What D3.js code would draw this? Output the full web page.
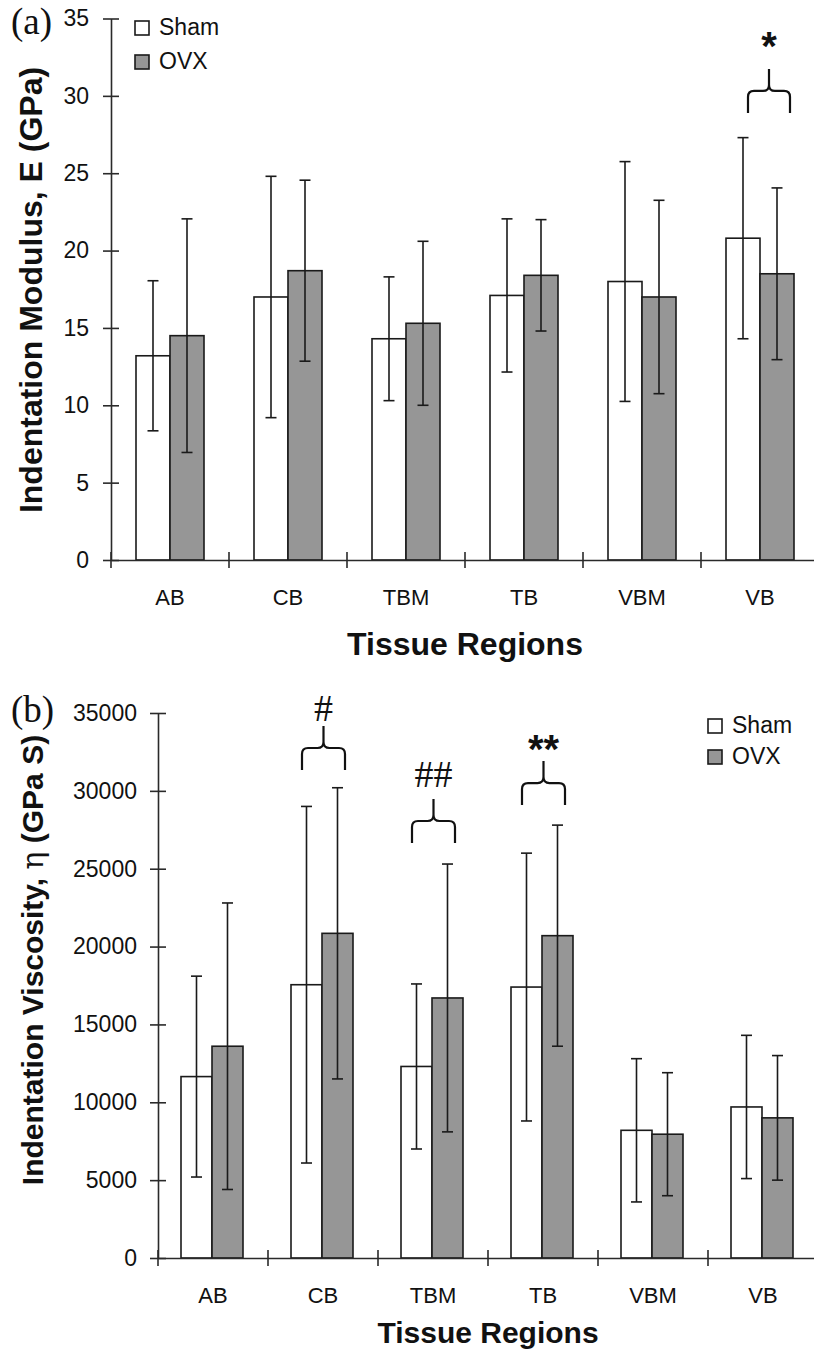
<!DOCTYPE html>
<html>
<head>
<meta charset="utf-8">
<script src="https://cdn.jsdelivr.net/npm/d3@7"></script>
<style>
  html, body { margin: 0; padding: 0; background: #fff; }
  svg { display: block; }
  text { font-family: "Liberation Sans", Arial, sans-serif; fill: #111; }
</style>
</head>
<body>
<svg id="chart" width="814" height="1353"></svg>
<script>
// ---------- data ----------
const categories = ["AB", "CB", "TBM", "TB", "VBM", "VB"];
const seriesNames = ["Sham", "OVX"];

// (a) Indentation modulus (GPa): mean and SD
const modulusSham   = [13.2, 17.0, 14.3, 17.1, 18.0, 20.8];
const modulusShamSD = [4.85, 7.8, 4.0, 4.95, 7.75, 6.5];
const modulusOVX    = [14.5, 18.7, 15.3, 18.4, 17.0, 18.5];
const modulusOVXSD  = [7.55, 5.85, 5.3, 3.6, 6.25, 5.55];
const modulusTicks  = [0, 5, 10, 15, 20, 25, 30, 35];

// (b) Indentation viscosity (GPa S): mean and SD
const viscSham   = [11650, 17550, 12300, 17400, 8200, 9700];
const viscShamSD = [6450, 11450, 5300, 8600, 4600, 4600];
const viscOVX    = [13600, 20850, 16700, 20700, 7950, 9000];
const viscOVXSD  = [9200, 9350, 8600, 7100, 3950, 4000];
const viscTicks  = [0, 5000, 10000, 15000, 20000, 25000, 30000, 35000];

// significance annotations: category, label, brace bottom value, label baseline value
const annotA = [{cat: "VB", label: "*", base: 28.9, labelAt: 32.3}];
const annotB = [
  {cat: "CB",  label: "#",  base: 31340, labelAt: 34500},
  {cat: "TBM", label: "##", base: 26650, labelAt: 30250},
  {cat: "TB",  label: "**", base: 29090, labelAt: 31800}
];

// ---------- drawing ----------
const svg = d3.select("#chart");

function panel(cfg) {
  const g = svg.append("g");
  const x = d3.scaleBand().domain(categories).range([cfg.left, cfg.right]).padding(0);
  const xs = d3.scaleBand().domain(seriesNames).range([cfg.groupPad, cfg.groupPad + 2 * cfg.barW]).padding(0);
  const y = d3.scaleLinear().domain([0, cfg.max]).range([cfg.y0, cfg.yTop]);

  const data = [];
  categories.forEach((c, i) => {
    data.push({cat: c, s: "Sham", m: cfg.sham[i], sd: cfg.shamSD[i]});
    data.push({cat: c, s: "OVX",  m: cfg.ovx[i],  sd: cfg.ovxSD[i]});
  });

  // bars
  g.selectAll("rect.bar").data(data).enter().append("rect")
    .attr("x", d => x(d.cat) + xs(d.s))
    .attr("y", d => y(d.m))
    .attr("width", xs.bandwidth())
    .attr("height", d => y(0) - y(d.m))
    .attr("fill", d => d.s === "Sham" ? "#ffffff" : "#969696")
    .attr("stroke", "#1a1a1a").attr("stroke-width", 1.6);

  // error bars
  const eb = g.selectAll("g.err").data(data).enter().append("g")
    .attr("stroke", "#1a1a1a").attr("stroke-width", 1.6);
  const cx = d => x(d.cat) + xs(d.s) + xs.bandwidth() / 2;
  eb.append("line").attr("x1", cx).attr("x2", cx)
    .attr("y1", d => y(d.m + d.sd)).attr("y2", d => y(d.m - d.sd));
  eb.append("line").attr("x1", d => cx(d) - 5.5).attr("x2", d => cx(d) + 5.5)
    .attr("y1", d => y(d.m + d.sd)).attr("y2", d => y(d.m + d.sd));
  eb.append("line").attr("x1", d => cx(d) - 5.5).attr("x2", d => cx(d) + 5.5)
    .attr("y1", d => y(d.m - d.sd)).attr("y2", d => y(d.m - d.sd));

  // y axis
  const ya = g.append("g").attr("transform", `translate(${cfg.left},0)`)
    .call(d3.axisLeft(y).tickValues(cfg.ticks).tickFormat(d3.format("d"))
      .tickSize(8).tickSizeOuter(0).tickPadding(cfg.tickPad));
  ya.select(".domain").attr("stroke", "#2a2a2a").attr("stroke-width", 1.6);
  ya.selectAll(".tick line").attr("x1", -8).attr("x2", 8).attr("stroke", "#2a2a2a").attr("stroke-width", 1.6);
  ya.selectAll(".tick text").style("font-size", cfg.tickFont + "px").attr("fill", "#1a1a1a")
    .style("font-family", '"Liberation Sans", Arial, sans-serif');

  // x axis
  const xa = g.append("g").attr("transform", `translate(0,${cfg.y0})`)
    .call(d3.axisBottom(x).tickSize(0).tickSizeOuter(0).tickPadding(cfg.catPad));
  xa.select(".domain").attr("stroke", "#2a2a2a").attr("stroke-width", 1.6);
  xa.selectAll(".tick text").style("font-size", cfg.catFont + "px").attr("fill", "#1a1a1a")
    .style("font-family", '"Liberation Sans", Arial, sans-serif');
  const bounds = categories.map(c => x(c)).concat([x.range()[1]]);
  g.selectAll("line.bt").data(bounds).enter().append("line")
    .attr("x1", d => d).attr("x2", d => d)
    .attr("y1", cfg.y0 - 8).attr("y2", cfg.y0 + 8)
    .attr("stroke", "#2a2a2a").attr("stroke-width", 1.6);

  // titles
  g.append("text").attr("x", (cfg.left + cfg.right) / 2).attr("y", cfg.xTitleY)
    .attr("text-anchor", "middle").style("font-weight", "bold").style("font-size", cfg.xTitleFont + "px")
    .text("Tissue Regions");
  const yt = g.append("text")
    .attr("transform", `translate(${cfg.yTitleX},${cfg.yTitleY}) rotate(-90)`)
    .attr("text-anchor", "middle").style("font-weight", "bold").style("font-size", cfg.yTitleFont + "px");
  cfg.yTitle(yt);

  // panel letter
  g.append("text").attr("x", 11).attr("y", cfg.letterY)
    .style("font-family", '"Liberation Serif", "Times New Roman", serif').style("font-size", "37px")
    .text(cfg.letter);

  // legend
  const lg = g.append("g");
  seriesNames.forEach((s, i) => {
    lg.append("rect").attr("x", cfg.legX).attr("y", cfg.legY + i * cfg.legStep)
      .attr("width", 14).attr("height", 14)
      .attr("fill", s === "Sham" ? "#fff" : "#969696").attr("stroke", "#1a1a1a").attr("stroke-width", 1.6);
    lg.append("text").attr("x", cfg.legX + 24).attr("y", cfg.legY + 14 + i * cfg.legStep)
      .style("font-size", "23px").text(s);
  });

  // annotations
  cfg.annot.forEach(a => {
    const x1 = x(a.cat) + cfg.braceL, x2 = x(a.cat) + cfg.braceR;
    const yb = y(a.base), yh = yb - 22, yt2 = yb - 44, mid = (x1 + x2) / 2, r = 6;
    const p = d3.path();
    p.moveTo(x1, yb); p.lineTo(x1, yh + r); p.quadraticCurveTo(x1, yh, x1 + r, yh);
    p.lineTo(mid - r, yh); p.quadraticCurveTo(mid, yh, mid, yh - r); p.lineTo(mid, yt2);
    p.moveTo(mid, yh - r); p.quadraticCurveTo(mid, yh, mid + r, yh);
    p.lineTo(x2 - r, yh); p.quadraticCurveTo(x2, yh, x2, yh + r); p.lineTo(x2, yb);
    g.append("path").attr("d", p.toString()).attr("fill", "none")
      .attr("stroke", "#111").attr("stroke-width", 2.2);
    const isStar = a.label.indexOf("*") >= 0;
    g.append("text").attr("x", mid).attr("y", y(a.labelAt))
      .attr("text-anchor", "middle")
      .style("font-family", isStar ? '"Liberation Sans", Arial, sans-serif' : '"Liberation Serif", "Times New Roman", serif')
      .style("font-weight", isStar ? "bold" : "normal")
      .style("font-size", isStar ? "40px" : "38px")
      .text(a.label);
  });
}

panel({
  left: 111, right: 819, y0: 560, yTop: 18.5, max: 35, ticks: modulusTicks,
  sham: modulusSham, shamSD: modulusShamSD, ovx: modulusOVX, ovxSD: modulusOVXSD,
  groupPad: 25, barW: 34, tickPad: 14, tickFont: 23, catPad: 29, catFont: 22,
  xTitleY: 655, xTitleFont: 32, yTitleX: 42, yTitleY: 290, yTitleFont: 32,
  yTitle: t => t.text("Indentation Modulus, E (GPa)"),
  letter: "(a)", letterY: 34,
  legX: 135, legY: 21, legStep: 34,
  annot: annotA, braceL: 47, braceR: 89
});

panel({
  left: 158, right: 818, y0: 1258, yTop: 713, max: 35000, ticks: viscTicks,
  sham: viscSham, shamSD: viscShamSD, ovx: viscOVX, ovxSD: viscOVXSD,
  groupPad: 23, barW: 31, tickPad: 13, tickFont: 23, catPad: 29, catFont: 22,
  xTitleY: 1343, xTitleFont: 30, yTitleX: 43, yTitleY: 960, yTitleFont: 30,
  yTitle: t => {
    t.append("tspan").text("Indentation Viscosity, ");
    t.append("tspan").style("font-weight", "normal")
      .style("font-family", '"DejaVu Serif", "Liberation Serif", serif').text("η");
    t.append("tspan").text(" (GPa S)");
  },
  letter: "(b)", letterY: 722,
  legX: 708, legY: 719, legStep: 31,
  annot: annotB, braceL: 34, braceR: 77
});
</script>
</body>
</html>
